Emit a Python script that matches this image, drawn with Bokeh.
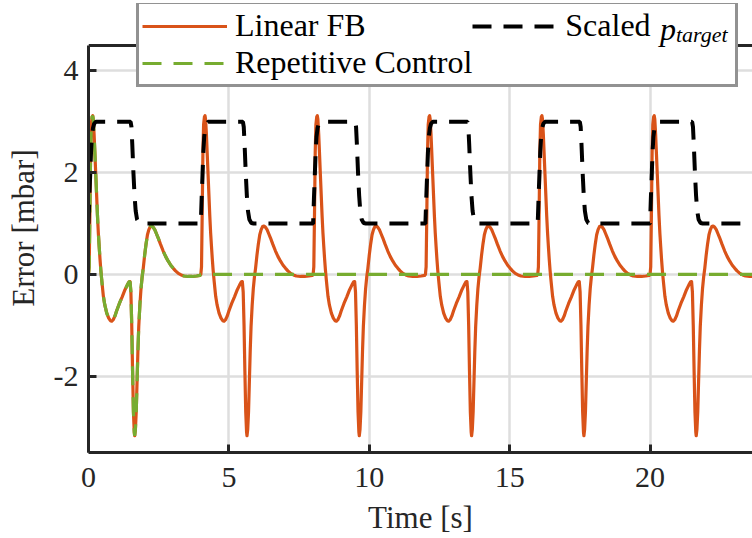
import numpy as np
from bokeh.plotting import figure
from bokeh.models import Range1d, Legend, LegendItem, FixedTicker, Span
from bokeh.embed import file_html
from bokeh.resources import INLINE

# One 4 s period of the pressure tracking error with linear feedback [mbar]
PERIOD_T = [0.00, 0.025, 0.05, 0.075, 0.10, 0.13, 0.15, 0.17, 0.20, 0.23,
            0.26, 0.29, 0.32, 0.35, 0.38, 0.41, 0.44, 0.47, 0.50, 0.53,
            0.58, 0.65, 0.72, 0.78, 0.83, 0.88, 0.94, 1.00, 1.10, 1.20,
            1.30, 1.38, 1.44, 1.48, 1.51, 1.54, 1.57, 1.60, 1.63, 1.645,
            1.67, 1.70, 1.73, 1.76, 1.79, 1.83, 1.87, 1.91, 1.95, 2.00,
            2.05, 2.10, 2.15, 2.20, 2.25, 2.30, 2.36, 2.42, 2.48, 2.56,
            2.66, 2.75, 2.84, 2.93, 3.02, 3.10, 3.20, 3.30, 3.40, 3.55,
            3.70, 3.85, 3.97]
LINEAR_FB_ERR = [0.00, 0.15, 1.20, 2.40, 2.95, 3.10, 3.12, 3.05, 2.75, 2.35,
                 1.95, 1.55, 1.15, 0.82, 0.55, 0.30, 0.08, -0.10, -0.27, -0.43,
                 -0.60, -0.76, -0.86, -0.91, -0.92, -0.89, -0.82, -0.72, -0.57, -0.44,
                 -0.30, -0.21, -0.15, -0.14, -0.35, -1.00, -1.90, -2.70, -3.10, -3.17,
                 -3.05, -2.70, -2.10, -1.50, -1.02, -0.60, -0.28, -0.05, 0.12, 0.38,
                 0.60, 0.78, 0.88, 0.94, 0.95, 0.93, 0.88, 0.80, 0.72, 0.60,
                 0.46, 0.35, 0.26, 0.18, 0.12, 0.07, 0.02, -0.01, -0.03, -0.04,
                 -0.04, -0.03, -0.02]

# Repetitive control: learns the error away after the first period
REP_SETTLED_T = [4.0, 24.0]
REP_SETTLED_ERR = [0.0, 0.0]

# Scaled pressure reference within one period
TARGET_T = [0.00, 0.03, 0.06, 0.09, 0.12, 0.16, 0.20, 0.26, 1.50, 1.53,
            1.56, 1.60, 1.64, 1.68, 1.73, 1.80, 1.88, 3.98]
TARGET_P = [1.00, 1.50, 1.95, 2.40, 2.70, 2.88, 2.96, 3.00, 3.00, 2.90,
            2.55, 2.00, 1.55, 1.25, 1.08, 1.01, 1.00, 1.00]

PERIOD_STARTS = [0, 4, 8, 12, 16, 20]
X_TICKS = [0, 5, 10, 15, 20]
Y_TICKS = [-2, 0, 2, 4]
Y_BOX = (-3.5, 4.5)     # axes box limits
X_VIEW = (0, 23.65)

# Assemble the periodic signals
t_lin = np.concatenate([np.asarray(PERIOD_T) + s for s in PERIOD_STARTS])
e_lin = np.tile(LINEAR_FB_ERR, len(PERIOD_STARTS))
t_rep = np.concatenate([PERIOD_T, REP_SETTLED_T])
e_rep = np.concatenate([LINEAR_FB_ERR, REP_SETTLED_ERR])
t_tgt = np.concatenate([np.asarray(TARGET_T) + s for s in PERIOD_STARTS])
p_tgt = np.tile(TARGET_P, len(PERIOD_STARTS))

FONT = "Liberation Serif"
AX = "#262626"

W, H = 752, 538
LEFT, TOP, BOTTOM = 88, 3, 86
BOX_TOP_PX = 45                       # pixel row of the axes box top edge
frame_h = H - TOP - BOTTOM
py = (H - BOTTOM - BOX_TOP_PX) / (Y_BOX[1] - Y_BOX[0])   # px per mbar
y_top = Y_BOX[0] + frame_h / py            # headroom that hosts the legend

p = figure(width=W, height=H, x_range=Range1d(*X_VIEW), y_range=Range1d(Y_BOX[0], y_top),
           output_backend="svg", toolbar_location=None,
           min_border_left=LEFT, min_border_right=0, min_border_top=TOP,
           min_border_bottom=BOTTOM)
p.outline_line_color = None
p.background_fill_color = "white"
p.border_fill_color = "white"

for ax in (p.xaxis[0], p.yaxis[0]):
    ax.axis_line_width = 3
    ax.axis_line_color = AX
    ax.major_tick_line_width = 3
    ax.major_tick_line_color = AX
    ax.major_tick_in = 8
    ax.major_tick_out = 0
    ax.minor_tick_line_color = None
    ax.major_label_text_font = FONT
    ax.major_label_text_font_size = "30px"
    ax.major_label_text_color = AX
    ax.axis_label_text_font = FONT
    ax.axis_label_text_font_size = "31px"
    ax.axis_label_text_font_style = "normal"
    ax.axis_label_text_color = AX

p.xaxis.ticker = FixedTicker(ticks=X_TICKS)
p.yaxis.ticker = FixedTicker(ticks=Y_TICKS)
p.yaxis.bounds = Y_BOX
p.yaxis.major_label_overrides = {t: str(t) for t in Y_TICKS}
p.xaxis.major_label_standoff = 15
p.yaxis.major_label_standoff = 10
p.xaxis.axis_label = "Time [s]"
p.yaxis.axis_label = "Error [mbar]"
p.xaxis.axis_label_standoff = 10
p.yaxis.axis_label_standoff = 10

for g in (p.xgrid[0], p.ygrid[0]):
    g.grid_line_color = "#dedede"
    g.grid_line_width = 2.5

# top edge of the axes box
p.add_layout(Span(location=Y_BOX[1], dimension="width", line_color=AX, line_width=3))

r_lin = p.line(t_lin, e_lin, line_color="#D95319", line_width=3.2, line_join="round")
r_rep = p.line(t_rep, e_rep, line_color="#77AC30", line_width=3.2, line_dash="19 12")
r_tgt = p.line(t_tgt, p_tgt, line_color="black", line_width=4, line_dash="19 12")

legend = Legend(
    items=[LegendItem(label="Linear FB", renderers=[r_lin]),
           LegendItem(label="Repetitive Control", renderers=[r_rep]),
           LegendItem(label="Scaled", renderers=[r_tgt])],
    location=(48, 365), orientation="vertical", nrows=2,
    label_text_font=FONT, label_text_font_size="32px", label_text_color="black",
    glyph_width=85, glyph_height=30, label_height=30, label_width=167,
    label_standoff=8, spacing=-3, padding=3, margin=0,
    border_line_color=AX, border_line_width=3,
    background_fill_color="white", background_fill_alpha=1.0,
)
p.add_layout(legend)


def symbol_part(text, size, loc):
    """Bare italic text piece laid over the legend (for p_target)."""
    return Legend(items=[LegendItem(label=text, renderers=[r_tgt])], location=loc,
                  label_text_font=FONT, label_text_font_style="italic",
                  label_text_font_size=size, label_text_color="black",
                  glyph_width=0, glyph_height=10, label_height=10, label_standoff=0,
                  padding=0, margin=0, spacing=0,
                  border_line_color=None, background_fill_alpha=0.0)


p.add_layout(symbol_part("p", "32px", (572, 404)))
p.add_layout(symbol_part("target", "22px", (588, 404)))

open("out.html", "w").write(file_html(p, INLINE))
